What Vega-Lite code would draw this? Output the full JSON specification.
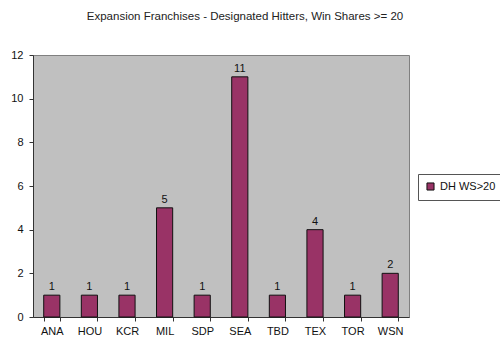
{
  "$schema": "https://vega.github.io/schema/vega-lite/v6.json",
  "width": 376,
  "height": 262,
  "autosize": {"type": "none"},
  "padding": {"left": 33, "top": 55, "right": 91, "bottom": 38},
  "background": "white",
  "title": {
    "text": "Expansion Franchises - Designated Hitters, Win Shares >= 20",
    "font": "Liberation Sans",
    "fontSize": 11.5,
    "fontWeight": "normal",
    "color": "#222222",
    "anchor": "middle",
    "dx": 24,
    "offset": 27
  },
  "data": {
    "values": [
      {"team": "ANA", "count": 1, "series": "DH WS>20"},
      {"team": "HOU", "count": 1, "series": "DH WS>20"},
      {"team": "KCR", "count": 1, "series": "DH WS>20"},
      {"team": "MIL", "count": 5, "series": "DH WS>20"},
      {"team": "SDP", "count": 1, "series": "DH WS>20"},
      {"team": "SEA", "count": 11, "series": "DH WS>20"},
      {"team": "TBD", "count": 1, "series": "DH WS>20"},
      {"team": "TEX", "count": 4, "series": "DH WS>20"},
      {"team": "TOR", "count": 1, "series": "DH WS>20"},
      {"team": "WSN", "count": 2, "series": "DH WS>20"}
    ]
  },
  "encoding": {
    "x": {
      "field": "team",
      "type": "nominal",
      "sort": null,
      "scale": {"paddingInner": 0.57, "paddingOuter": 0.285},
      "axis": {
        "title": null,
        "labelAngle": 0,
        "labelFont": "Liberation Sans",
        "labelFontSize": 11,
        "labelColor": "#111111",
        "labelPadding": 4,
        "tickBand": "extent",
        "tickSize": 4,
        "tickColor": "#333333",
        "domainColor": "#333333",
        "grid": false
      }
    },
    "y": {
      "field": "count",
      "type": "quantitative",
      "scale": {"domain": [0, 12], "nice": false},
      "axis": {
        "title": null,
        "values": [0, 2, 4, 6, 8, 10, 12],
        "labelFont": "Liberation Sans",
        "labelFontSize": 11,
        "labelColor": "#111111",
        "labelPadding": 6,
        "tickSize": 4,
        "tickColor": "#333333",
        "domainColor": "#333333",
        "grid": false
      }
    }
  },
  "layer": [
    {
      "mark": {"type": "bar", "stroke": "#111111", "strokeWidth": 1},
      "encoding": {
        "fill": {
          "field": "series",
          "type": "nominal",
          "scale": {"range": ["#993366"]},
          "legend": {
            "title": null,
            "orient": "none",
            "legendX": 385,
            "legendY": 119,
            "symbolType": "square",
            "symbolSize": 50,
            "symbolStrokeColor": "#111111",
            "symbolStrokeWidth": 1,
            "labelFont": "Liberation Sans",
            "labelFontSize": 11,
            "labelColor": "#111111",
            "strokeColor": "#555555",
            "fillColor": "white",
            "padding": 7
          }
        }
      }
    },
    {
      "mark": {
        "type": "text",
        "dy": -8,
        "font": "Liberation Sans",
        "fontSize": 11,
        "color": "#111111"
      },
      "encoding": {"text": {"field": "count", "type": "quantitative"}}
    }
  ],
  "config": {
    "view": {"fill": "#c0c0c0", "stroke": "#808080", "strokeWidth": 1}
  }
}
